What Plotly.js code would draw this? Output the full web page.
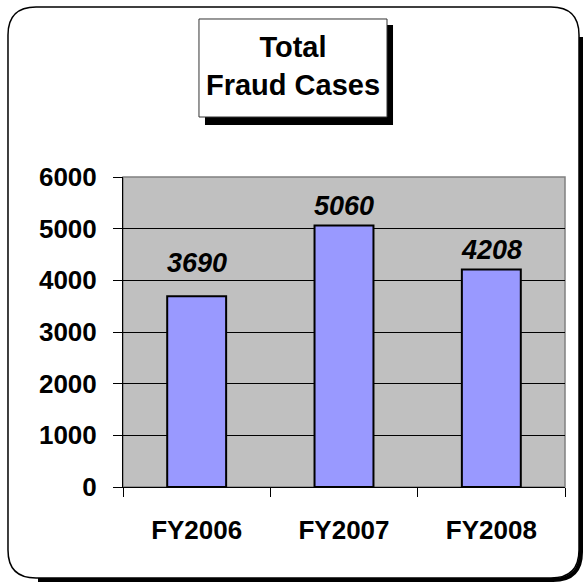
<!DOCTYPE html>
<html>
<head>
<meta charset="utf-8">
<script src="https://cdn.plot.ly/plotly-3.0.1.min.js"></script>
<style>
  html, body { margin: 0; padding: 0; background: #fff; }
  #chart { width: 584px; height: 584px; }
</style>
</head>
<body>
<div id="chart"></div>
<script>
var years = ['FY2006', 'FY2007', 'FY2008'];
var cases = [3690, 5060, 4208];
var yTicks = [0, 1000, 2000, 3000, 4000, 5000, 6000];
// label lift above the bar top, px (first label sits a bit higher in the original)
var lift = [16, 3, 3];

// plot area in pixels
var L = 123, T = 177, W = 442, H = 310;
function px(x) { return ((x - L) / W).toFixed(4); }
function py(y) { return ((T + H - y) / H).toFixed(4); }
function pt(x, y) { return px(x) + ',' + py(y); }

function roundRect(x0, y0, x1, y1, r) {
  return 'M' + pt(x0 + r, y0) +
    ' L' + pt(x1 - r, y0) + ' Q' + pt(x1, y0) + ' ' + pt(x1, y0 + r) +
    ' L' + pt(x1, y1 - r) + ' Q' + pt(x1, y1) + ' ' + pt(x1 - r, y1) +
    ' L' + pt(x0 + r, y1) + ' Q' + pt(x0, y1) + ' ' + pt(x0, y1 - r) +
    ' L' + pt(x0, y0 + r) + ' Q' + pt(x0, y0) + ' ' + pt(x0 + r, y0) + ' Z';
}

// outer frame and its shadow (right + bottom only)
var fx0 = 8, fy0 = 7, fx1 = 579, fy1 = 578, fr = 28, s = 2;
var shadowPath = 'M' + pt(fx1 + s, fy0 + fr + s) +
  ' L' + pt(fx1 + s, fy1 - fr + s) + ' Q' + pt(fx1 + s, fy1 + s) + ' ' + pt(fx1 - fr + s, fy1 + s) +
  ' L' + pt(fx0 + fr + s, fy1 + s);

var shapes = [
  {type: 'path', xref: 'paper', yref: 'paper', path: shadowPath, layer: 'below',
   line: {color: '#000', width: 4}},
  {type: 'path', xref: 'paper', yref: 'paper', path: roundRect(fx0, fy0, fx1, fy1, fr), layer: 'below',
   line: {color: '#000', width: 1.5}},
  // title box shadow + box
  {type: 'rect', xref: 'paper', yref: 'paper', layer: 'below',
   x0: px(205), x1: px(393), y0: py(125), y1: py(25),
   fillcolor: '#000', line: {width: 0}},
  {type: 'rect', xref: 'paper', yref: 'paper', layer: 'below',
   x0: px(199), x1: px(387), y0: py(117), y1: py(19),
   fillcolor: '#fff', line: {color: '#333', width: 1}},
  // plot area border
  {type: 'rect', xref: 'paper', yref: 'paper', layer: 'below',
   x0: 0, x1: 1, y0: 0, y1: 1, line: {color: '#808080', width: 1.5}}
];

var annotations = years.map(function (c, i) {
  return {
    x: c, y: cases[i], xref: 'x', yref: 'y',
    text: '<b><i>' + cases[i] + '</i></b>',
    showarrow: false, yanchor: 'bottom', yshift: lift[i],
    font: {family: 'Arial, "Liberation Sans", sans-serif', size: 27, color: '#000'}
  };
});

var trace = {
  x: years,
  y: cases,
  type: 'bar',
  marker: {color: '#9999ff', line: {color: '#000', width: 2}},
  hoverinfo: 'none'
};

var layout = {
  width: 584,
  height: 584,
  margin: {l: L, r: 584 - L - W, t: T, b: 584 - T - H},
  paper_bgcolor: '#fff',
  plot_bgcolor: '#c0c0c0',
  font: {family: 'Arial, "Liberation Sans", sans-serif', color: '#000'},
  showlegend: false,
  bargap: 0.6,
  title: {
    text: '<b>Total<br>Fraud Cases</b>',
    font: {size: 29, color: '#000'},
    x: 293 / 584,
    xanchor: 'center',
    y: 1 - 57 / 584,
    yanchor: 'middle'
  },
  xaxis: {
    showline: true, linecolor: '#000', linewidth: 1,
    ticks: 'outside', ticklen: 9, tickcolor: '#000',
    tickson: 'boundaries',
    ticklabelstandoff: 20,
    tickfont: {size: 26, weight: 'bold'},
    showgrid: false, zeroline: false, fixedrange: true
  },
  yaxis: {
    range: [0, 6000],
    tickvals: yTicks,
    ticktext: yTicks.map(String),
    showline: true, linecolor: '#000', linewidth: 1,
    ticks: 'outside', ticklen: 9, tickcolor: '#000',
    ticklabelstandoff: 11,
    tickfont: {size: 26, weight: 'bold'},
    showgrid: true, gridcolor: '#000', gridwidth: 1,
    zeroline: false, fixedrange: true
  },
  shapes: shapes,
  annotations: annotations
};

Plotly.newPlot('chart', [trace], layout, {displayModeBar: false, staticPlot: true});
</script>
</body>
</html>
